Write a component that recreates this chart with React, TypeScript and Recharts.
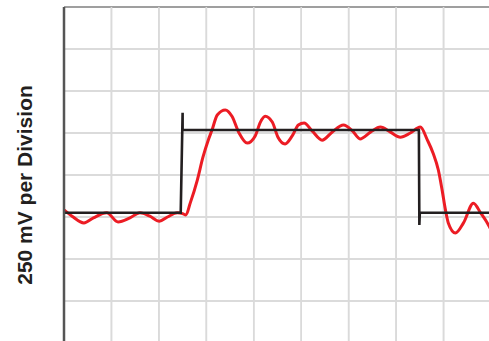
import { LineChart, Line, XAxis, YAxis, CartesianGrid, ReferenceLine } from 'recharts'

// time in divisions, level in divisions (250 mV per division)
const inputT = [0, 2.46, 2.5, 2.5, 7.48, 7.49, 7.5, 9]
const inputV = [3.1, 3.1, 5.48, 5.07, 5.07, 2.81, 3.1, 3.1]

const outputT = [
  0, 0.17, 0.42, 0.62, 0.9, 1.14, 1.39, 1.6, 1.81, 2.01, 2.18, 2.39, 2.5, 2.57,
  2.66, 2.81, 2.93, 3.04, 3.12, 3.23, 3.4, 3.54, 3.69, 3.86, 4.03, 4.14, 4.24,
  4.39, 4.51, 4.66, 4.81, 4.94, 5.06, 5.23, 5.44, 5.65, 5.89, 6.08, 6.24, 6.46,
  6.67, 6.88, 7.09, 7.3, 7.51, 7.66, 7.78, 7.89, 7.97, 8.04, 8.1, 8.25, 8.42,
  8.63, 8.78, 8.97, 9,
]
const outputV = [
  3.17, 3.02, 2.86, 2.98, 3.1, 2.88, 2.98, 3.1, 3.02, 2.9, 3.0, 3.1, 3.08, 3.05,
  3.33, 3.88, 4.43, 4.83, 5.07, 5.43, 5.55, 5.4, 5.0, 4.76, 4.93, 5.26, 5.4,
  5.26, 4.9, 4.74, 4.93, 5.19, 5.24, 5.05, 4.83, 5.02, 5.19, 5.05, 4.86, 5.02,
  5.14, 5.02, 4.9, 5.0, 5.14, 4.83, 4.52, 4.12, 3.64, 3.17, 2.86, 2.62, 2.86,
  3.33, 3.1, 2.76, 2.69,
]

const xTicks = [0, 1, 2, 3, 4, 5, 6, 7, 8, 9]
const yTicks = [0, 1, 2, 3, 4, 5, 6, 7, 8]
const yLabel = '250 mV per Division'

const inputData = inputT.map((t, i) => ({ t, v: inputV[i] }))
const outputData = outputT.map((t, i) => ({ t, v: outputV[i] }))

const noTick = () => <g />

export default function App() {
  return (
    <div style={{ position: 'absolute', left: 0, top: 0, width: 489, height: 341, overflow: 'hidden', background: '#fff' }}>
      <LineChart width={491} height={344} data={outputData} margin={{ top: 7, right: 0, left: 0, bottom: 0 }}>
        <CartesianGrid stroke="#d6d6d6" strokeWidth={1.5} />
        <XAxis type="number" dataKey="t" domain={[0, 9]} ticks={xTicks} height={1} axisLine={false} tick={noTick} tickLine={false} />
        <YAxis type="number" domain={[0, 8]} ticks={yTicks} width={64} axisLine={{ stroke: '#555', strokeWidth: 2.5 }} tick={noTick} tickLine={false} />
        {yTicks.map((y) => (
          <ReferenceLine key={'y' + y} y={y} stroke={y === 8 ? '#8a8a8a' : '#dadada'} strokeWidth={1.6} ifOverflow="visible" />
        ))}
        {xTicks.slice(1).map((x) => (
          <ReferenceLine key={'x' + x} x={x} stroke="#dadada" strokeWidth={1.6} ifOverflow="visible" />
        ))}
        <Line data={outputData} dataKey="v" type="monotone" stroke="#ec1c24" strokeWidth={3} dot={false} isAnimationActive={false} />
        <Line data={inputData} dataKey="v" type="linear" stroke="#231f20" strokeWidth={2.6} dot={false} isAnimationActive={false} />
      </LineChart>
      <div
        style={{
          position: 'absolute',
          left: 25,
          top: 185,
          transform: 'translate(-50%, -50%) rotate(-90deg)',
          whiteSpace: 'nowrap',
          fontFamily: '"Liberation Sans", Arial, sans-serif',
          fontWeight: 'bold',
          fontSize: 21,
          color: '#231f20',
        }}
      >
        {yLabel}
      </div>
    </div>
  )
}
